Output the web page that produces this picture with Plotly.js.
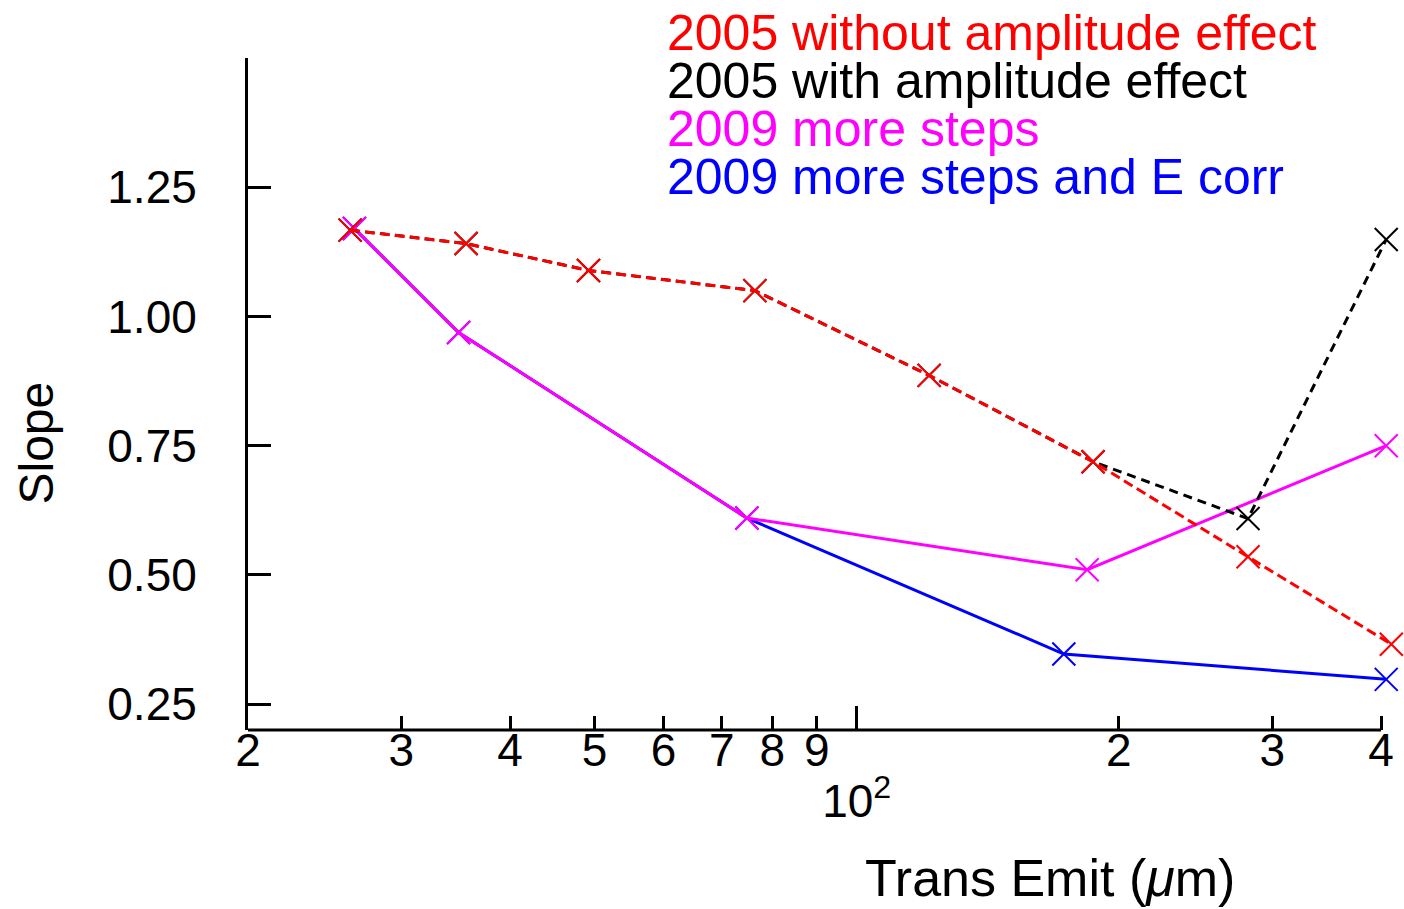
<!DOCTYPE html>
<html><head><meta charset="utf-8">
<script src="https://cdn.plot.ly/plotly-3.0.1.min.js"></script>
<style>html,body{margin:0;padding:0;background:#fff}</style>
</head><body><div id="chart" style="width:1404px;height:909px"></div>
<script>
// ---- data ----
const seriesNames = ['2005 without amplitude effect', '2005 with amplitude effect', '2009 more steps', '2009 more steps and E corr'];
const seriesColors = ['#ff0000', '#000000', '#ff00ff', '#0000ff'];

const redX = [26.2, 35.6, 49.2, 76.4, 121.1, 186.8, 281.4, 411.0];
const redY = [1.167, 1.141, 1.089, 1.050, 0.886, 0.719, 0.535, 0.366];

const blackX = [26.2, 35.6, 49.2, 76.4, 121.1, 186.8, 281.4, 405.5];
const blackY = [1.167, 1.141, 1.089, 1.050, 0.886, 0.719, 0.609, 1.149];

const magentaX = [26.5, 34.9, 74.8, 183.9, 405.5];
const magentaY = [1.170, 0.969, 0.610, 0.510, 0.750];

const blueX = [26.5, 34.9, 74.8, 172.9, 405.5];
const blueY = [1.170, 0.969, 0.610, 0.347, 0.298];

const xAxisStart = 20;
const xAxisEnd = 400;
const xTickVals = [20, 30, 40, 50, 60, 70, 80, 90, 200, 300, 400];
const xTickText = ['2', '3', '4', '5', '6', '7', '8', '9', '2', '3', '4'];
const xDecadeVals = [100];
const xDecadeText = ['10<sup>2</sup>'];
const yTickVals = [0.25, 0.50, 0.75, 1.00, 1.25];
const yTickText = ['0.25', '0.50', '0.75', '1.00', '1.25'];

const xTitle = 'Trans Emit (<i>μ</i>m)';
const yTitle = 'Slope';

// ---- chart ----
const FONT = '"Liberation Sans", Arial, sans-serif';
const mk = (color) => ({symbol: 'x-thin-open', size: 23, color: color, line: {color: color, width: 2}});

const traces = [
  {x: blueX, y: blueY, name: seriesNames[3], mode: 'lines+markers', cliponaxis: false,
   line: {color: seriesColors[3], width: 3}, marker: mk(seriesColors[3])},
  {x: magentaX, y: magentaY, name: seriesNames[2], mode: 'lines+markers', cliponaxis: false,
   line: {color: seriesColors[2], width: 3}, marker: mk(seriesColors[2])},
  {x: blackX, y: blackY, name: seriesNames[1], mode: 'lines+markers', cliponaxis: false,
   line: {color: seriesColors[1], width: 3, dash: '9px,6px'}, marker: mk(seriesColors[1])},
  {x: redX, y: redY, name: seriesNames[0], mode: 'lines+markers', cliponaxis: false,
   line: {color: seriesColors[0], width: 3, dash: '10px,5px'}, marker: mk(seriesColors[0])},
  {x: [], y: [], xaxis: 'x2', showlegend: false, hoverinfo: 'skip'}
];

const legendY = [1.037, 0.966, 0.894, 0.823];
const annotations = seriesNames.map((n, i) => ({
  text: n, xref: 'paper', yref: 'paper', x: 0.3607, y: legendY[i],
  xanchor: 'left', yanchor: 'middle', showarrow: false,
  font: {family: FONT, size: 50, color: seriesColors[i]}
}));
annotations.push({text: xTitle, xref: 'paper', yref: 'paper', x: 0.6938, y: -0.22,
  xanchor: 'center', yanchor: 'middle', showarrow: false, font: {family: FONT, size: 52, color: '#000'}});
annotations.push({text: yTitle, xref: 'paper', yref: 'paper', x: -0.183, y: 0.427, textangle: -90,
  xanchor: 'center', yanchor: 'middle', showarrow: false, font: {family: FONT, size: 48, color: '#000'}});

// plot area runs from px 248 to 1404; 400 sits at px 1381 (870.9 px per decade)
const xr = [Math.log10(20), Math.log10(20) + (1404 - 248) / 870.9];
const layout = {
  width: 1404, height: 909,
  margin: {l: 248, r: 0, t: 58, b: 179, pad: 0},
  paper_bgcolor: '#fff', plot_bgcolor: '#fff',
  showlegend: false,
  font: {family: FONT, size: 46, color: '#000'},
  xaxis: {type: 'log', range: xr, showline: false,
    ticks: 'inside', ticklen: 14, tickwidth: 3, tickcolor: '#000',
    tickmode: 'array', tickvals: xTickVals, ticktext: xTickText,
    showgrid: false, zeroline: false, automargin: false,
    tickfont: {family: FONT, size: 46, color: '#000'}, ticklabelstandoff: -11},
  xaxis2: {type: 'log', range: xr, overlaying: 'x', anchor: 'y', side: 'bottom',
    showline: false, ticks: 'inside', ticklen: 24, tickwidth: 3, tickcolor: '#000',
    tickmode: 'array', tickvals: xDecadeVals, ticktext: xDecadeText,
    showgrid: false, zeroline: false, automargin: false,
    tickfont: {family: FONT, size: 46, color: '#000'}, ticklabelstandoff: 40},
  yaxis: {range: [0.2, 1.5], showline: true, linewidth: 3, linecolor: '#000',
    ticks: 'inside', ticklen: 23, tickwidth: 3, tickcolor: '#000',
    tickmode: 'array', tickvals: yTickVals, ticktext: yTickText,
    showgrid: false, zeroline: false, automargin: false,
    tickfont: {family: FONT, size: 46, color: '#000'}, ticklabelstandoff: 39},
  shapes: [{type: 'line', xref: 'x', yref: 'paper', x0: xAxisStart, x1: xAxisEnd, y0: 0, y1: 0,
    line: {color: '#000', width: 3}, layer: 'above'}],
  annotations: annotations
};

Plotly.newPlot('chart', traces, layout, {staticPlot: true, displayModeBar: false});
</script>
</body></html>
